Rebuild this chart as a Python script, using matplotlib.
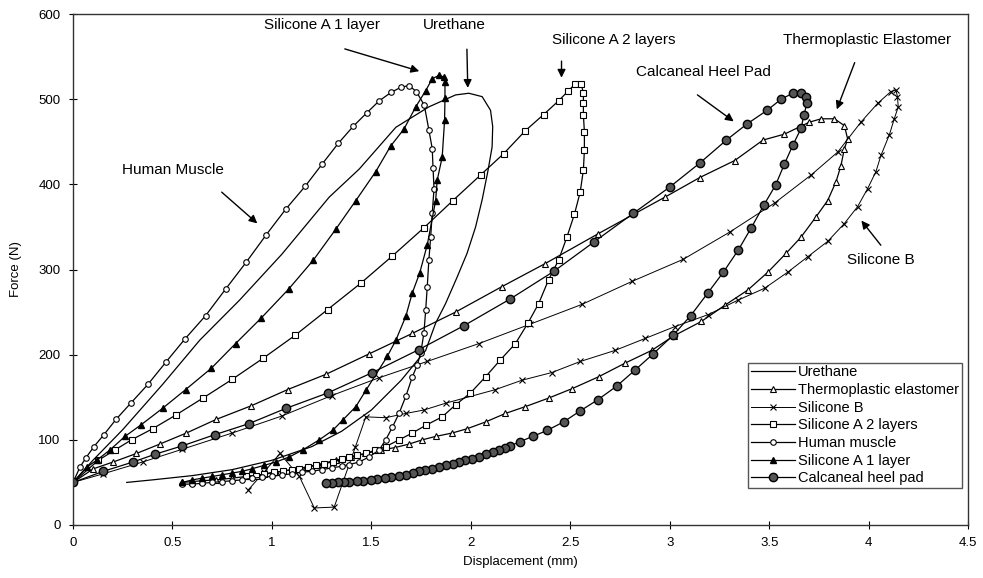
import numpy as np
import matplotlib.pyplot as plt

plt.rcParams['font.family'] = ['Liberation Sans', 'DejaVu Sans']

# displacement (mm) / force (N), loading then unloading
ure_x = [0.0, 0.1, 0.25, 0.45, 0.637, 0.837, 1.05, 1.288, 1.439, 1.623, 1.789, 1.923, 1.99,
         2.057, 2.099, 2.11, 2.107, 2.087, 2.057, 2.024, 1.981, 1.931, 1.873, 1.823, 1.773,
         1.65, 1.5, 1.35, 1.2, 1.0, 0.8, 0.6, 0.4, 0.27]
ure_y = [50, 76, 112, 165, 217, 264, 318, 385, 418, 467, 491, 505, 507,
         503, 487, 468, 444, 417, 382, 350, 319, 291, 260, 237, 205,
         170, 135, 110, 92, 76, 65, 58, 53, 50]

tpe_x = [0.0, 0.102, 0.202, 0.319, 0.436, 0.57, 0.72, 0.896, 1.079, 1.272, 1.489, 1.706, 1.923,
         2.157, 2.374, 2.64, 2.976, 3.151, 3.327, 3.469, 3.577, 3.702, 3.761, 3.828, 3.878, 3.895,
         3.878, 3.861, 3.836, 3.794, 3.736, 3.66, 3.585, 3.494, 3.393, 3.277, 3.159, 3.02, 2.909,
         2.775, 2.642, 2.508, 2.391, 2.274, 2.174, 2.074, 1.981, 1.906, 1.823, 1.756, 1.689,
         1.62, 1.55, 1.47, 1.4, 1.32, 1.25, 1.17, 1.1, 1.02, 0.95, 0.87, 0.8, 0.72, 0.65, 0.6, 0.55]
tpe_y = [50, 66, 74, 84, 95, 108, 124, 140, 159, 177, 201, 225, 250,
         280, 307, 342, 385, 408, 428, 452, 459, 473, 477, 477, 469, 453,
         442, 422, 403, 381, 362, 338, 319, 297, 276, 258, 239, 222, 205,
         190, 174, 160, 149, 139, 131, 121, 113, 108, 104, 100, 95,
         91, 88, 84, 80, 76, 72, 68, 65, 62, 59, 57, 55, 53, 52, 51, 50]

sib_x = [0.0, 0.15, 0.35, 0.55, 0.8, 1.05, 1.3, 1.54, 1.78, 2.04, 2.3, 2.558, 2.81, 3.068,
         3.302, 3.527, 3.711, 3.845, 3.961, 4.045, 4.112, 4.137,
         4.145, 4.149, 4.129, 4.104, 4.062, 4.037, 3.995, 3.945, 3.878, 3.794, 3.694, 3.594,
         3.477, 3.343, 3.193, 3.026, 2.876, 2.725, 2.55, 2.407, 2.257, 2.124, 1.873, 1.764,
         1.673, 1.572, 1.472, 1.42, 1.355, 1.313, 1.213, 1.138, 1.04, 0.96, 0.88]
sib_y = [50, 60, 74, 89, 108, 128, 152, 173, 192, 213, 236, 259, 286, 312,
         344, 378, 411, 438, 473, 495, 509, 511,
         503, 491, 477, 458, 434, 415, 395, 374, 354, 333, 315, 297,
         278, 264, 247, 233, 219, 205, 192, 179, 170, 159, 143, 135,
         131, 126, 127, 92, 49, 21, 20, 57, 84, 62, 41]

sa2_x = [0.0, 0.127, 0.21, 0.294, 0.4, 0.516, 0.653, 0.8, 0.957, 1.118, 1.28, 1.447, 1.606,
         1.764, 1.91, 2.049, 2.165, 2.274, 2.366, 2.441, 2.491, 2.525, 2.555,
         2.566, 2.566, 2.566, 2.571, 2.571, 2.566, 2.55, 2.521, 2.483, 2.441, 2.391, 2.341,
         2.287, 2.224, 2.149, 2.074, 1.998, 1.923, 1.856, 1.773, 1.706, 1.639, 1.572, 1.52,
         1.472, 1.43, 1.388, 1.35, 1.305, 1.26, 1.222, 1.18, 1.138, 1.1, 1.054, 1.01, 0.962,
         0.92, 0.872]
sa2_y = [50, 76, 88, 100, 113, 129, 149, 171, 196, 223, 253, 284, 316,
         349, 381, 411, 436, 463, 482, 498, 510, 518, 518,
         507, 495, 481, 462, 440, 417, 391, 365, 338, 311, 288, 260,
         237, 213, 194, 174, 155, 141, 127, 117, 108, 100, 92, 88,
         84, 82, 80, 77, 74, 72, 70, 68, 66, 65, 63, 62, 60,
         58, 57]

hm_x = [0.0, 0.035, 0.065, 0.105, 0.155, 0.216, 0.29, 0.376, 0.466, 0.561, 0.667, 0.767, 0.872,
        0.972, 1.07, 1.168, 1.253, 1.333, 1.408, 1.477, 1.539, 1.599, 1.648, 1.689, 1.726,
        1.766, 1.789, 1.806, 1.81, 1.815, 1.806, 1.798, 1.789, 1.781, 1.773, 1.764, 1.748,
        1.731, 1.706, 1.673, 1.639, 1.606, 1.572, 1.539, 1.489, 1.439, 1.39, 1.35, 1.3, 1.25,
        1.2, 1.15, 1.1, 1.05, 1.0, 0.95, 0.9, 0.85, 0.8, 0.75, 0.7, 0.65, 0.6, 0.55]
hm_y = [50, 68, 79, 92, 106, 124, 143, 165, 191, 218, 246, 277, 309,
        341, 371, 398, 424, 448, 468, 484, 498, 508, 514, 516, 509,
        493, 464, 442, 419, 395, 366, 338, 311, 280, 252, 225, 202,
        188, 174, 151, 131, 115, 100, 88, 80, 74, 71, 69, 67, 65,
        63, 62, 60, 59, 57, 56, 55, 53, 52, 51, 50, 49, 48, 48]

sa1_x = [0.0, 0.069, 0.119, 0.185, 0.261, 0.344, 0.45, 0.566, 0.695, 0.817, 0.946, 1.084, 1.208,
         1.32, 1.422, 1.522, 1.597, 1.664, 1.723, 1.773, 1.806, 1.84, 1.865,
         1.87, 1.87, 1.868, 1.856, 1.831, 1.823, 1.781, 1.743, 1.705, 1.673, 1.623, 1.58,
         1.472, 1.422, 1.355, 1.305, 1.238, 1.154, 1.088, 1.021, 0.96, 0.9, 0.85, 0.8, 0.75,
         0.7, 0.65, 0.6, 0.55]
sa1_y = [50, 68, 76, 88, 104, 118, 137, 159, 184, 213, 243, 277, 311,
         347, 381, 415, 445, 465, 491, 510, 524, 528, 526,
         520, 501, 475, 432, 405, 381, 329, 296, 272, 245, 217, 198,
         158, 139, 123, 111, 100, 88, 80, 74, 70, 66, 63, 61, 59,
         57, 55, 53, 50]

chp_x = [0.0, 0.152, 0.302, 0.411, 0.55, 0.712, 0.884, 1.071, 1.28, 1.505, 1.739, 1.965, 2.195,
         2.418, 2.617, 2.817, 3.001, 3.151, 3.285, 3.389, 3.49, 3.56, 3.619, 3.661, 3.686, 3.69,
         3.674, 3.661, 3.619, 3.577, 3.532, 3.474, 3.41, 3.345, 3.27, 3.19, 3.106, 3.018, 2.917,
         2.826, 2.733, 2.638, 2.55, 2.466, 2.383, 2.311, 2.249, 2.199, 2.17, 2.14, 2.11, 2.074,
         2.04, 2.007, 1.97, 1.94, 1.91, 1.873, 1.84, 1.806, 1.77, 1.739, 1.71, 1.673, 1.64, 1.6,
         1.57, 1.53, 1.5, 1.46, 1.43, 1.39, 1.36, 1.33, 1.3, 1.27]
chp_y = [50, 63, 74, 83, 93, 106, 119, 137, 155, 179, 206, 234, 265,
         298, 332, 366, 397, 425, 452, 471, 487, 500, 507, 507, 503, 495,
         481, 466, 446, 424, 399, 376, 349, 323, 297, 272, 246, 223, 201,
         182, 163, 147, 134, 121, 111, 104, 98, 93, 90, 88, 86, 83,
         80, 78, 76, 74, 72, 70, 68, 66, 65, 63, 61, 59, 58, 56,
         55, 54, 53, 52, 52, 51, 50, 50, 49.5, 49]

notes = ['Silicone A 1 layer', 'Urethane', 'Silicone A 2 layers', 'Calcaneal Heel Pad',
         'Thermoplastic Elastomer', 'Human Muscle', 'Silicone B']
note_xy = [(1.25, 587), (1.915, 587), (2.72, 569), (3.17, 532), (3.99, 569), (0.5, 417), (4.06, 311)]
tail_xy = [(1.353, 560), (1.98, 562), (2.456, 548), (3.128, 507), (3.935, 546), (0.737, 393), (4.07, 326)]
head_xy = [(1.754, 532), (1.985, 510), (2.456, 522), (3.333, 472), (3.835, 485), (0.937, 352), (3.955, 360)]

fig = plt.figure(figsize=(9.83, 5.78), dpi=100)
ax = fig.add_axes([0.0743, 0.0917, 0.9105, 0.884])

k = dict(color='black', lw=0.9)
ax.plot(ure_x, ure_y, label='Urethane', **k)
ax.plot(tpe_x, tpe_y, marker='^', ms=4.5, mfc='white', mec='black', mew=0.8,
        label='Thermoplastic elastomer', **k)
ax.plot(sib_x, sib_y, marker='x', ms=5, mew=0.8, label='Silicone B', color='black', lw=0.7)
ax.plot(sa2_x, sa2_y, marker='s', ms=5, mfc='white', mec='black', mew=0.8,
        label='Silicone A 2 layers', **k)
ax.plot(hm_x, hm_y, marker='o', ms=4, mfc='white', mec='black', mew=0.8,
        label='Human muscle', **k)
ax.plot(sa1_x, sa1_y, marker='^', ms=4.5, mfc='black', mec='black',
        label='Silicone A 1 layer', **k)
ax.plot(chp_x, chp_y, marker='o', ms=6, mfc='#555555', mec='black', mew=1.0,
        label='Calcaneal heel pad', **k)

for t, p, a, b in zip(notes, note_xy, tail_xy, head_xy):
    ax.text(p[0], p[1], t, ha='center', va='center', fontsize=11)
    ax.annotate('', xy=b, xytext=a,
                arrowprops=dict(arrowstyle='-|>', color='black', lw=1.0, mutation_scale=12))

ax.set_xlim(0, 4.5)
ax.set_ylim(0, 600)
ax.set_xticks(np.arange(0, 4.51, 0.5))
ax.set_xticklabels(['0', '0.5', '1', '1.5', '2', '2.5', '3', '3.5', '4', '4.5'])
ax.set_yticks(range(0, 601, 100))
ax.tick_params(direction='inout', length=6, width=0.8, labelsize=9.5, pad=6)
ax.set_xlabel('Displacement (mm)', fontsize=9.5, labelpad=5)
ax.set_ylabel('Force (N)', fontsize=9.5, labelpad=12)
for s in ax.spines.values():
    s.set_linewidth(1.0)
    s.set_color('#333333')

ax.legend(loc='lower right', bbox_to_anchor=(0.993, 0.072), fontsize=10.5, frameon=True,
          fancybox=False, edgecolor='#555555', framealpha=1, borderpad=0.2,
          labelspacing=0.25, handlelength=3.0, handletextpad=0.2, borderaxespad=0)

fig.savefig('out.png', dpi=100, facecolor='white')
